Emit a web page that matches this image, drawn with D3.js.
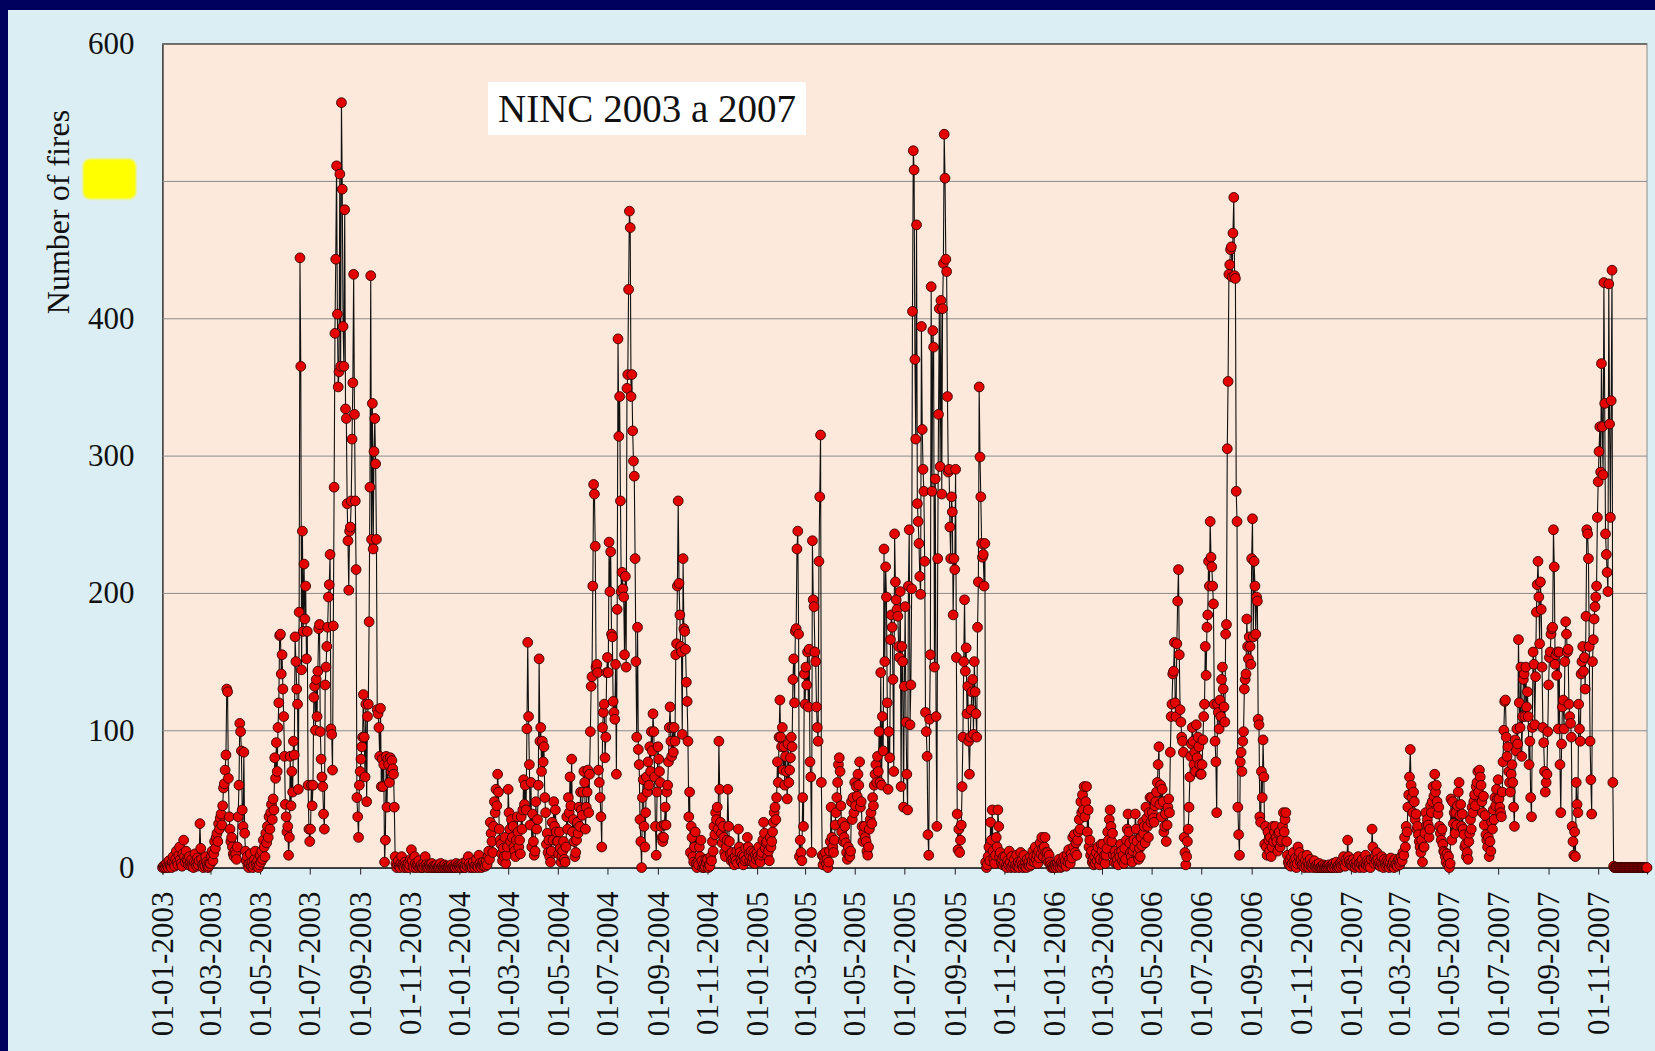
<!DOCTYPE html>
<html>
<head>
<meta charset="utf-8">
<script src="https://cdn.jsdelivr.net/npm/d3@7"></script>
<style>
  html, body { margin: 0; padding: 0; background: #00005e; }
  svg { display: block; }
</style>
</head>
<body>
<svg id="chart" width="1655" height="1051"></svg>
<script>
// Daily number of fires, one inner array per month (Jan..Dec)
const fires2003 = [
  [0,1,0,2,0,3,1,0,5,2,1,0,4,8,3,1,6,12,4,2,9,15,6,3,1,10,20,8,4,12,6],
  [5,2,8,3,1,6,2,0,4,10,3,1,7,2,5,32,14,6,2,0,3,1,8,4,2,0,1,3],
  [3,8,12,5,10,19,14,22,25,19,32,28,36,39,31,45,58,61,71,82,130,128,65,37,28,19,22,15,10,8,12],
  [10,6,15,37,60,105,99,85,42,30,84,25,12,5,8,2,0,3,10,1,4,0,2,6,12,3,1,5,0,2],
  [9,4,12,6,20,15,8,25,18,30,22,37,28,40,46,35,50,42,80,65,91,70,102,120,169,170,141,155,130,110,81],
  [46,37,26,30,9,22,81,45,70,55,92,82,168,150,130,119,57,186,444,365,144,245,172,221,181,205,152,172,60,28],
  [19,28,60,45,60,124,132,100,137,110,143,174,177,99,79,66,59,39,28,133,146,161,175,197,206,228,101,97,71,176,277],
  [389,443,511,403,350,361,505,365,557,494,394,365,479,334,327,265,238,202,245,248,267,312,353,432,330,267,217,51,37,22,60],
  [70,79,88,95,126,95,66,119,48,110,119,179,277,431,239,338,232,303,327,294,239,115,112,102,81,116,59,79,59,75],
  [4,20,81,44,79,75,62,80,70,78,72,68,44,8,3,0,2,5,1,0,3,8,2,1,0,4,2,0,1,3,0],
  [2,6,13,5,1,0,8,3,0,2,1,5,0,1,2,0,0,3,1,8,2,0,1,0,2,1,0,3,0,1],
  [0,1,0,2,0,0,1,0,3,0,1,0,0,2,0,1,0,0,0,1,0,2,0,0,1,0,0,3,1,0,2]
];

const fires2004 = [
  [1,0,2,0,3,1,0,0,2,5,1,8,3,0,1,2,0,4,1,0,2,6,1,0,9,3,1,0,2,4,1],
  [3,1,5,2,8,12,6,33,25,19,11,30,48,40,57,45,68,55,28,20,17,10,5,14,8,22,3,9,15],
  [57,40,28,19,35,22,30,15,12,8,20,37,26,15,20,10,37,28,42,64,46,60,42,101,164,110,75,31,62,15,39],
  [19,9,12,48,28,35,60,152,92,102,70,92,77,88,51,40,17,25,11,20,8,4,12,33,20,48,30,42,26,19],
  [19,10,26,14,4,8,12,19,6,4,15,37,28,51,40,66,45,79,26,35,19,8,11,20,33,25,44,30,55,42,38],
  [55,70,62,28,44,55,71,40,68,99,132,139,205,279,272,234,146,148,142,71,62,51,37,15,102,113,119,80,95,142],
  [153,142,237,201,230,170,168,121,113,108,148,68,188,385,314,343,267,201,215,203,197,155,212,146,349,359,421,478,466,343,359],
  [318,296,285,225,150,95,175,86,75,35,19,0,51,64,30,15,40,66,55,77,60,88,70,99,85,112,99,66,30,9,55],
  [88,79,70,62,30,22,19,22,31,44,31,55,60,77,102,117,92,81,102,84,102,92,155,163,205,267,207,184,161,157],
  [97,225,174,172,159,135,121,92,37,55,11,30,22,8,4,15,26,3,0,4,2,15,8,20,5,0,2,0,1,6,3],
  [6,0,2,1,8,5,19,12,30,24,40,35,44,28,92,57,33,25,18,30,22,11,8,15,20,57,30,19,10,5],
  [11,6,4,2,8,5,12,3,28,15,11,6,4,9,2,8,5,14,6,22,15,10,5,8,12,4,7,11,3,9,6]
];

const fires2005 = [
  [11,8,15,6,4,9,11,20,33,25,14,18,19,8,12,5,22,15,19,26,33,40,44,35,51,77,62,95,122,95,88],
  [102,71,88,60,81,70,50,90,62,71,80,95,88,137,152,120,172,174,232,245,170,8,20,11,5,51,30,141],
  [119,146,133,157,117,159,77,66,11,238,195,190,157,150,117,102,92,223,270,315,62,9,2,8,5,11,3,6,0,4,12],
  [19,44,22,15,11,20,31,40,51,62,75,80,70,45,26,33,19,22,30,18,11,6,15,9,8,12,48,35,51,40],
  [62,45,59,52,68,60,77,44,48,30,19,25,30,22,19,12,9,15,28,35,40,32,51,45,60,68,75,62,81,70,99],
  [62,142,60,110,85,232,150,219,197,120,57,99,80,166,184,175,137,70,243,208,195,188,183,161,153,201,59,161,150,44],
  [132,190,106,68,42,205,246,104,133,203,405,522,508,370,312,468,265,252,236,212,199,394,319,290,274,223,113,99,81,24,9],
  [108,155,423,274,391,379,146,283,110,30,225,330,407,292,413,272,407,440,534,502,443,434,343,288,290,248,225,270,259,184,225],
  [217,290,153,39,13,28,11,20,31,59,95,150,195,143,160,112,132,92,68,95,115,128,137,97,150,128,112,95,175,208],
  [350,299,270,236,226,228,205,236,4,0,2,8,15,5,33,20,42,12,6,3,9,22,15,42,30,8,11,4,6,2,8],
  [3,8,1,0,5,2,12,4,0,8,1,3,6,0,2,9,1,4,0,3,11,5,2,0,9,1,4,0,6,2],
  [4,1,8,2,5,12,8,4,15,6,9,3,12,7,18,10,22,14,8,15,22,11,6,11,4,9,4,2,0,1,0]
];

const fires2006 = [
  [0,2,1,0,3,1,6,2,0,4,1,3,8,2,5,1,9,4,13,6,3,10,7,22,15,24,11,18,9,20,26],
  [35,28,48,40,53,42,59,37,48,59,26,42,15,20,9,12,4,6,2,8,3,11,5,15,8,2,6,17],
  [12,17,5,9,3,9,14,26,20,35,42,30,19,25,9,4,12,8,3,6,2,11,8,17,12,5,9,3,14,6,20],
  [28,39,26,18,11,8,4,12,20,15,39,28,19,10,6,14,8,22,16,33,25,30,18,44,36,30,22,40,51,33],
  [51,40,36,33,45,48,55,62,75,88,46,60,37,57,48,26,30,39,19,31,44,50,40,84,110,119,141,143,164,120,110],
  [163,194,217,155,115,106,95,92,84,22,11,2,8,19,28,44,66,81,90,102,92,75,84,70,104,80,95,88,75,68],
  [68,75,93,110,119,161,140,175,184,223,205,252,226,219,205,192,119,92,77,40,119,113,101,122,110,137,146,130,117,106,170],
  [177,305,354,432,439,450,452,430,462,488,431,429,274,252,44,24,9,77,84,70,92,99,130,137,141,181,161,152,168,161,148],
  [225,254,168,223,205,170,197,194,108,104,37,33,70,51,93,66,17,30,15,9,26,20,12,22,8,15,30,19,26,30],
  [22,19,12,25,26,15,19,20,30,40,26,35,40,19,9,4,2,6,1,8,3,11,5,2,7,0,3,15,8,11,4],
  [6,2,8,3,0,5,1,9,4,0,2,6,1,3,0,2,5,1,0,2,0,1,3,0,0,1,0,2,0,1],
  [0,0,1,0,2,0,1,0,0,3,1,0,2,4,0,1,2,0,3,1,5,2,8,3,1,6,4,20,8,5,3]
];

const fires2007 = [
  [2,4,1,6,3,0,2,5,1,8,3,0,4,2,6,1,0,3,9,2,5,1,4,2,0,6,28,15,7,3,8],
  [5,11,6,2,4,1,3,8,2,0,6,3,1,5,2,4,0,3,7,1,2,4,0,6,2,3,1,5],
  [6,2,4,8,5,11,9,22,15,30,26,44,53,66,86,60,51,40,55,48,35,39,28,30,24,19,15,11,20,4,15],
  [15,25,40,31,35,31,22,28,45,40,48,59,52,68,55,60,48,39,44,30,25,20,28,17,12,11,8,4,10,2],
  [8,0,3,50,20,48,32,40,25,40,31,45,55,62,38,46,30,39,28,24,15,17,8,11,6,19,25,35,28,44,40],
  [48,53,45,59,62,70,55,71,66,60,48,40,52,31,38,24,20,15,22,8,19,12,33,28,42,35,51,45,57,50],
  [64,50,44,40,37,55,77,100,121,122,95,81,88,70,62,55,68,75,62,44,30,93,85,101,90,166,120,102,146,81,110],
  [137,141,110,146,117,128,110,75,92,51,37,102,157,148,104,139,186,206,223,197,163,208,188,146,102,91,70,55,62,68,99],
  [133,153,157,170,174,175,246,219,148,155,140,157,101,157,75,40,90,117,122,101,150,179,170,157,159,119,110,105,95,30],
  [19,9,26,8,62,46,40,119,101,92,141,150,161,143,153,130,183,246,243,225,161,92,64,39,150,166,181,190,197,205,255],
  [281,303,321,288,367,321,286,426,338,243,228,215,201,425,323,255,340,435,62,1,0,0,0,0,0,0,0,0,0,0],
  [0,0,0,0,0,0,0,0,0,0,0,0,0,0,0,0,0,0,0,0,0,0,0,0,0,0,0,0,0,0,0]
];

const years = [2003, 2004, 2005, 2006, 2007];
const seriesByYear = [fires2003, fires2004, fires2005, fires2006, fires2007];

const yTickValues = [0, 100, 200, 300, 400, 500, 600];
const xTickLabels = [
  "01-01-2003","01-03-2003","01-05-2003","01-07-2003","01-09-2003","01-11-2003",
  "01-01-2004","01-03-2004","01-05-2004","01-07-2004","01-09-2004","01-11-2004",
  "01-01-2005","01-03-2005","01-05-2005","01-07-2005","01-09-2005","01-11-2005",
  "01-01-2006","01-03-2006","01-05-2006","01-07-2006","01-09-2006","01-11-2006",
  "01-01-2007","01-03-2007","01-05-2007","01-07-2007","01-09-2007","01-11-2007"
];
const chartTitle = "NINC 2003 a 2007";
const yAxisTitle = "Number of fires";

// Flatten into {date, value} records, one per day
const data = [];
years.forEach((yr, yi) => {
  seriesByYear[yi].forEach((month, m) => {
    month.forEach((v, i) => data.push({ date: new Date(Date.UTC(yr, m, i + 1)), value: v }));
  });
});

const W = 1655, H = 1051;
const plot = { left: 162.5, right: 1647, top: 43.6, bottom: 867.6 };
const parseTick = d3.utcParse("%d-%m-%Y");

const x = d3.scaleUtc()
  .domain([new Date(Date.UTC(2003, 0, 1)), new Date(Date.UTC(2007, 11, 31))])
  .range([plot.left, plot.right]);
const y = d3.scaleLinear().domain([0, 600]).range([plot.bottom, plot.top]);

const svg = d3.select("#chart");
const serif = "'Liberation Serif', 'Times New Roman', serif";

// Frame: navy outer, light blue slide background
svg.append("rect").attr("x", 0).attr("y", 0).attr("width", W).attr("height", H).attr("fill", "#00005e");
svg.append("rect").attr("x", 8).attr("y", 10).attr("width", W - 8).attr("height", H - 10).attr("fill", "#dbeef4");

// Plot area
svg.append("rect")
  .attr("x", plot.left).attr("y", plot.top)
  .attr("width", plot.right - plot.left).attr("height", plot.bottom - plot.top)
  .attr("fill", "#fce9db").attr("stroke", "#8c8c8c").attr("stroke-width", 1);

// Gridlines + y axis
const yAxis = d3.axisLeft(y).tickValues(yTickValues).tickSize(-(plot.right - plot.left)).tickPadding(28).tickFormat(d3.format("d"));
const gy = svg.append("g").attr("transform", `translate(${plot.left},0)`).call(yAxis);
gy.select(".domain").attr("stroke", "#222").attr("stroke-width", 1.2);
gy.selectAll(".tick line").attr("stroke", "#8c8c8c").attr("stroke-width", 1);
gy.selectAll(".tick text").attr("font-family", serif).attr("font-size", 31).attr("fill", "#111");

// x axis with rotated date labels
const xAxis = d3.axisBottom(x)
  .tickValues(xTickLabels.map(parseTick))
  .tickSize(7)
  .tickFormat(d3.utcFormat("%d-%m-%Y"));
const gx = svg.append("g").attr("transform", `translate(0,${plot.bottom})`).call(xAxis);
gx.select(".domain").attr("stroke", "#222").attr("stroke-width", 1.2);
gx.selectAll(".tick line").attr("stroke", "#222");
gx.selectAll(".tick text")
  .attr("font-family", serif).attr("font-size", 31).attr("fill", "#111")
  .attr("text-anchor", "end")
  .attr("transform", "rotate(-90)")
  .attr("x", -24).attr("y", 0).attr("dy", "0.33em");

// Series line and markers
const line = d3.line().x(d => x(d.date)).y(d => y(d.value));
svg.append("path").datum(data)
  .attr("d", line).attr("fill", "none")
  .attr("stroke", "#111").attr("stroke-width", 1.1).attr("stroke-linejoin", "round");

svg.append("g").selectAll("circle").data(data).join("circle")
  .attr("cx", d => x(d.date)).attr("cy", d => y(d.value)).attr("r", 4.9)
  .attr("fill", "#e50000").attr("stroke", "#3a0000").attr("stroke-width", 0.9);

// Title box
const tx = 647, ty = 108;
svg.append("rect").attr("x", 488).attr("y", 82).attr("width", 318).attr("height", 53).attr("fill", "#ffffff");
svg.append("text").attr("x", tx).attr("y", ty).attr("dy", "0.36em")
  .attr("text-anchor", "middle").attr("font-family", serif).attr("font-size", 39).attr("fill", "#111")
  .text(chartTitle);

// Y axis title
svg.append("text")
  .attr("transform", `translate(58,212) rotate(-90)`)
  .attr("text-anchor", "middle").attr("dy", "0.35em")
  .attr("font-family", serif).attr("font-size", 32).attr("fill", "#111")
  .text(yAxisTitle);

// Yellow highlighter stroke over the 500 tick label
const defs = svg.append("defs");
defs.append("filter").attr("id", "soft").append("feGaussianBlur").attr("stdDeviation", 1.2);
svg.append("rect").attr("x", 83).attr("y", 159).attr("width", 53).attr("height", 40).attr("rx", 7)
  .attr("fill", "#ffff00").attr("filter", "url(#soft)");
</script>
</body>
</html>
